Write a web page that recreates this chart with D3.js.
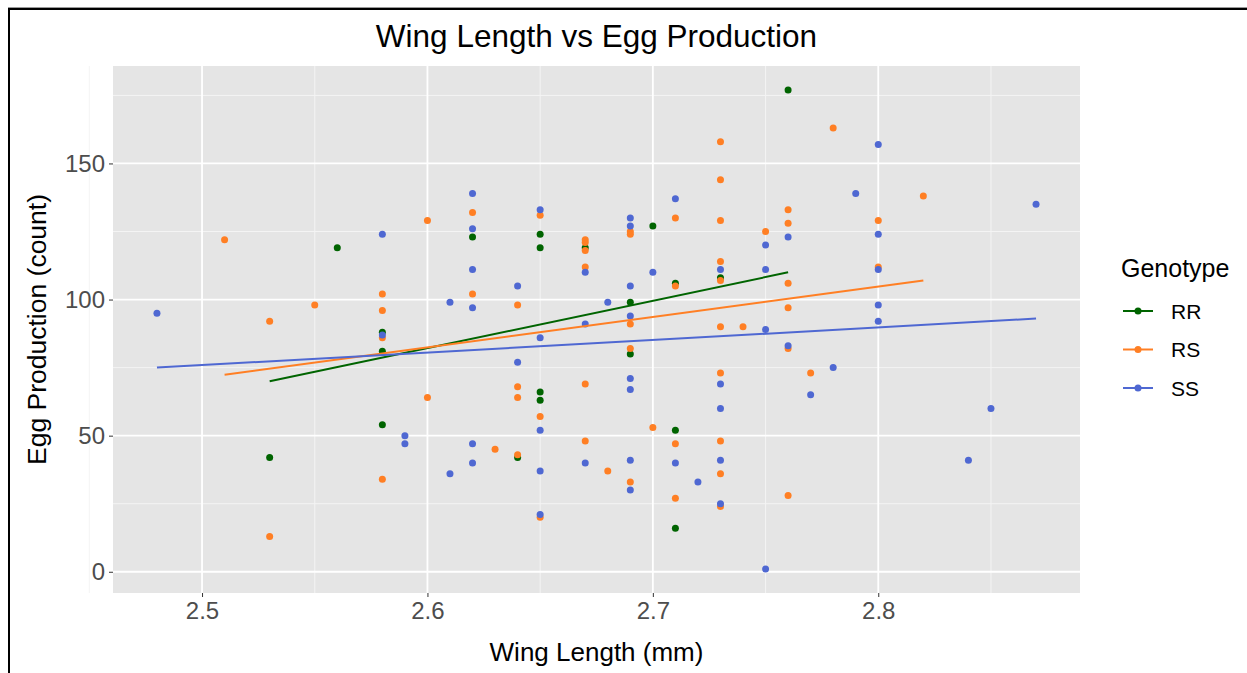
<!DOCTYPE html>
<html>
<head>
<meta charset="utf-8">
<script src="https://cdn.jsdelivr.net/npm/d3@7"></script>
<style>
  body { margin: 0; background: #fff; }
  svg { display: block; font-family: "Liberation Sans", Arial, sans-serif; }
</style>
</head>
<body>
<script>
// genotype RR
var wingRR = [2.56, 2.58, 2.58, 2.58, 2.53, 2.62, 2.65, 2.65, 2.67, 2.69, 2.70, 2.71, 2.73, 2.76, 2.65, 2.65, 2.64, 2.69, 2.71, 2.71];
var eggRR  = [119, 88, 81, 54, 42, 123, 124, 119, 119, 99, 127, 106, 108, 177, 66, 63, 42, 80, 52, 16];

// genotype RS
var wingRS = [2.51, 2.60, 2.58, 2.58, 2.53, 2.55, 2.58, 2.60, 2.58, 2.53, 2.62, 2.62, 2.64, 2.65, 2.67, 2.67, 2.67, 2.67, 2.69, 2.69,
              2.69, 2.71, 2.71, 2.73, 2.73, 2.73, 2.73, 2.73, 2.73, 2.74, 2.64, 2.64, 2.65, 2.63, 2.64, 2.65, 2.69, 2.67, 2.70, 2.67,
              2.68, 2.69, 2.71, 2.71, 2.73, 2.73, 2.73, 2.73, 2.78, 2.82, 2.76, 2.76, 2.75, 2.80, 2.80, 2.76, 2.76, 2.76, 2.77, 2.76];
var eggRS  = [122, 129, 102, 96, 92, 98, 86, 64, 34, 13, 132, 102, 98, 131, 122, 121, 118, 112, 125, 124,
              91, 130, 105, 158, 144, 129, 114, 107, 90, 90, 68, 64, 57, 45, 43, 20, 82, 69, 53, 48,
              37, 33, 47, 27, 73, 48, 36, 24, 163, 138, 133, 128, 125, 129, 112, 106, 97, 82, 73, 28];

// genotype SS
var wingSS = [2.58, 2.48, 2.58, 2.59, 2.59, 2.62, 2.62, 2.62, 2.62, 2.61, 2.64, 2.65, 2.65, 2.67, 2.67, 2.68, 2.69, 2.69, 2.69, 2.69,
              2.70, 2.71, 2.73, 2.64, 2.65, 2.62, 2.62, 2.61, 2.65, 2.65, 2.69, 2.69, 2.67, 2.69, 2.69, 2.71, 2.72, 2.73, 2.73, 2.73,
              2.73, 2.80, 2.79, 2.87, 2.76, 2.75, 2.75, 2.80, 2.80, 2.80, 2.80, 2.75, 2.76, 2.78, 2.77, 2.85, 2.84, 2.75];
var eggSS  = [124, 95, 87, 50, 47, 139, 126, 111, 97, 99, 105, 133, 86, 110, 91, 99, 130, 127, 105, 94,
              110, 137, 111, 77, 52, 47, 40, 36, 37, 21, 71, 67, 40, 41, 30, 40, 33, 69, 60, 41,
              25, 157, 139, 135, 123, 120, 111, 124, 111, 98, 92, 89, 83, 75, 65, 60, 41, 1];

// fitted lm lines: [start, end] egg values at the group's wing range
var fitRR = [70, 110];
var fitRS = [72.4, 107];
var fitSS = [75, 93];

var genotypes = ["RR", "RS", "SS"];
var xTicks = [2.5, 2.6, 2.7, 2.8];
var yTicks = [0, 50, 100, 150];

var colors = { RR: "#006400", RS: "#FF7F24", SS: "#4F68D2" };

var groups = [
  { name: "RR", wing: wingRR, egg: eggRR, fit: fitRR },
  { name: "RS", wing: wingRS, egg: eggRS, fit: fitRS },
  { name: "SS", wing: wingSS, egg: eggSS, fit: fitSS }
];

var W = 1247, H = 673;
var panel = { left: 113, right: 1080, top: 66, bottom: 593 };

var svg = d3.select("body").append("svg")
  .attr("width", W)
  .attr("height", H);

// all points together, for the scale ranges
var allWing = wingRR.concat(wingRS, wingSS);
var allEgg = eggRR.concat(eggRS, eggSS);

function expand(ext) {
  var pad = (ext[1] - ext[0]) * 0.05;
  return [ext[0] - pad, ext[1] + pad];
}

var x = d3.scaleLinear().domain(expand(d3.extent(allWing))).range([panel.left, panel.right]);
var y = d3.scaleLinear().domain(expand(d3.extent(allEgg))).range([panel.bottom, panel.top]);

// outer frame (cut off on right / bottom like the screenshot)
svg.append("line")
  .attr("x1", 8).attr("x2", W).attr("y1", 7.5).attr("y2", 7.5)
  .attr("stroke", "#9a9a9a").attr("stroke-width", 1);
svg.append("rect")
  .attr("x", 9).attr("y", 9)
  .attr("width", W + 20).attr("height", H + 20)
  .attr("fill", "none").attr("stroke", "#000").attr("stroke-width", 2);

// panel background
svg.append("rect")
  .attr("x", panel.left).attr("y", panel.top)
  .attr("width", panel.right - panel.left)
  .attr("height", panel.bottom - panel.top)
  .attr("fill", "#E5E5E5");

// minor grid (halfway between majors)
var xMinor = [2.45, 2.55, 2.65, 2.75, 2.85];
var yMinor = [25, 75, 125, 175];
var grid = svg.append("g");

grid.selectAll(".xminor").data(xMinor).enter().append("line")
  .attr("x1", function(d) { return x(d); }).attr("x2", function(d) { return x(d); })
  .attr("y1", panel.top).attr("y2", panel.bottom)
  .attr("stroke", "#F4F4F4").attr("stroke-width", 1);
grid.selectAll(".yminor").data(yMinor).enter().append("line")
  .attr("x1", panel.left).attr("x2", panel.right)
  .attr("y1", function(d) { return y(d); }).attr("y2", function(d) { return y(d); })
  .attr("stroke", "#F4F4F4").attr("stroke-width", 1);

grid.selectAll(".xmajor").data(xTicks).enter().append("line")
  .attr("x1", function(d) { return x(d); }).attr("x2", function(d) { return x(d); })
  .attr("y1", panel.top).attr("y2", panel.bottom)
  .attr("stroke", "#fff").attr("stroke-width", 1.8);
grid.selectAll(".ymajor").data(yTicks).enter().append("line")
  .attr("x1", panel.left).attr("x2", panel.right)
  .attr("y1", function(d) { return y(d); }).attr("y2", function(d) { return y(d); })
  .attr("stroke", "#fff").attr("stroke-width", 1.8);

// axes
var xAxis = svg.append("g")
  .attr("transform", "translate(0," + panel.bottom + ")")
  .call(d3.axisBottom(x).tickValues(xTicks).tickSize(4).tickPadding(5).tickFormat(d3.format(".1f")));
var yAxis = svg.append("g")
  .attr("transform", "translate(" + panel.left + ",0)")
  .call(d3.axisLeft(y).tickValues(yTicks).tickSize(4).tickPadding(4));

[xAxis, yAxis].forEach(function(a) {
  a.select(".domain").remove();
  a.selectAll(".tick line").attr("stroke", "#333333");
  a.selectAll(".tick text")
    .attr("fill", "#4D4D4D")
    .style("font-size", "24px")
    .style("font-family", "'Liberation Sans', Arial, sans-serif");
});

// points
var pts = svg.append("g");
groups.forEach(function(g) {
  pts.selectAll(".p" + g.name)
    .data(d3.range(g.wing.length))
    .enter().append("circle")
      .attr("cx", function(i) { return x(g.wing[i]); })
      .attr("cy", function(i) { return y(g.egg[i]); })
      .attr("r", 3.5)
      .attr("fill", colors[g.name]);
});

// linear fits per genotype (geom_smooth method = lm)
var line = d3.line()
  .x(function(d) { return x(d[0]); })
  .y(function(d) { return y(d[1]); });

groups.forEach(function(g) {
  var ext = d3.extent(g.wing);
  svg.append("path")
    .datum([[ext[0], g.fit[0]], [ext[1], g.fit[1]]])
    .attr("d", line)
    .attr("fill", "none")
    .attr("stroke", colors[g.name])
    .attr("stroke-width", 2);
});

// titles
svg.append("text")
  .attr("x", (panel.left + panel.right) / 2).attr("y", 47)
  .attr("text-anchor", "middle")
  .style("font-size", "31.5px")
  .text("Wing Length vs Egg Production");

svg.append("text")
  .attr("x", (panel.left + panel.right) / 2).attr("y", 661)
  .attr("text-anchor", "middle")
  .style("font-size", "26px")
  .text("Wing Length (mm)");

svg.append("text")
  .attr("transform", "translate(46," + (panel.top + panel.bottom) / 2 + ") rotate(-90)")
  .attr("text-anchor", "middle")
  .style("font-size", "26.5px")
  .text("Egg Production (count)");

// legend
var legend = svg.append("g").attr("transform", "translate(1121,0)");
legend.append("text")
  .attr("x", 0).attr("y", 277)
  .style("font-size", "25px")
  .text("Genotype");

var keyY = d3.scalePoint().domain(genotypes).range([311, 388]);
var keys = legend.selectAll(".key").data(genotypes).enter().append("g")
  .attr("transform", function(d) { return "translate(0," + keyY(d) + ")"; });
keys.append("line")
  .attr("x1", 2).attr("x2", 32)
  .attr("stroke", function(d) { return colors[d]; })
  .attr("stroke-width", 2);
keys.append("circle")
  .attr("cx", 17).attr("r", 3.5)
  .attr("fill", function(d) { return colors[d]; });
keys.append("text")
  .attr("x", 50).attr("y", 7.5)
  .style("font-size", "21px")
  .text(function(d) { return d; });
</script>
</body>
</html>
